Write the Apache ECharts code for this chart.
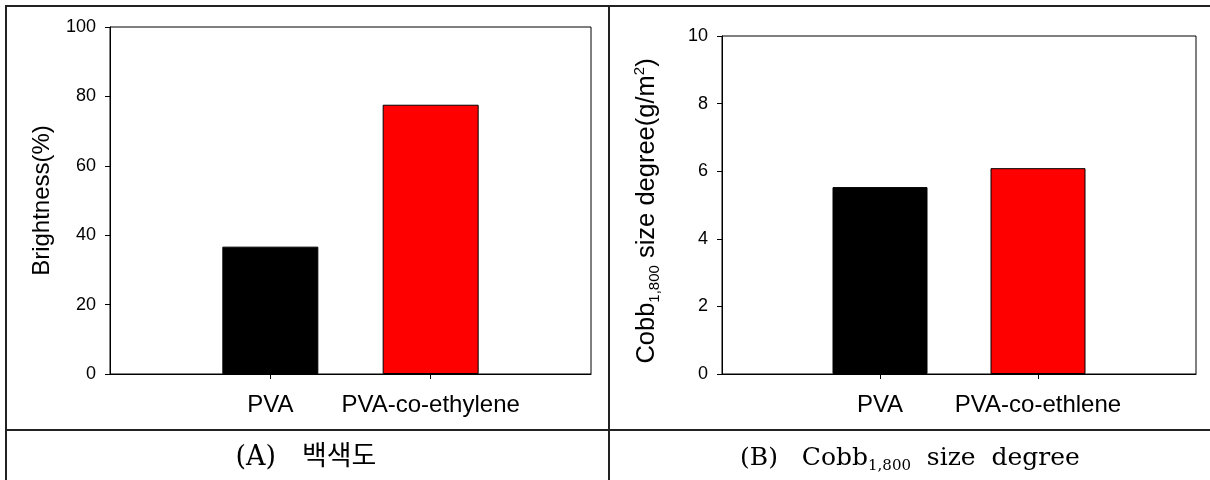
<!DOCTYPE html>
<html>
<head>
<meta charset="utf-8">
<script src="https://cdn.jsdelivr.net/npm/echarts@6/dist/echarts.min.js"></script>
<style>
  html, body { margin: 0; padding: 0; background: #fff; }
  #chart { width: 1210px; height: 480px; }
</style>
</head>
<body>
<div id="chart"></div>
<script>
// Panel (A): brightness of the two sizing agents
const categoriesA = ['PVA', 'PVA-co-ethylene'];
const brightness = [36.7, 77.6];
const rangeA = [0, 100, 20];          // min, max, tick step

// Panel (B): Cobb 1,800 size degree
const categoriesB = ['PVA', 'PVA-co-ethlene'];
const cobb = [5.53, 6.09];
const rangeB = [0, 10, 2];

const barColors = ['#000000', '#ff0000'];

const SANS = "'Liberation Sans', Arial, sans-serif";
const SERIF = "'DejaVu Serif', 'Liberation Serif', 'Noto Sans CJK KR', serif";

// Pad each category list with an empty slot on both ends so the two bars sit
// at one third and two thirds of the plot width.
function padded(list) { return [''].concat(list, ['']); }
function paddedData(values) {
  return [null].concat(values.map((v, i) => ({
    value: v,
    itemStyle: { color: barColors[i], borderColor: '#000', borderWidth: 1 }
  })), [null]);
}
const innerOnly = (i) => i > 0 && i < 3;

function xAxisFor(gridIndex, cats) {
  return {
    type: 'category',
    gridIndex,
    data: padded(cats),
    boundaryGap: false,
    axisLine: { show: true, lineStyle: { color: '#000', width: 1 } },
    axisTick: { show: true, inside: false, length: 5, interval: innerOnly, lineStyle: { color: '#000' } },
    axisLabel: { interval: innerOnly, margin: 19, fontSize: 24, fontFamily: SANS, color: '#000' },
    splitLine: { show: false }
  };
}

function yAxisFor(gridIndex, range, name, nameGap, rich, padding) {
  return {
    type: 'value',
    gridIndex,
    min: range[0], max: range[1], interval: range[2],
    name,
    nameLocation: 'middle',
    nameGap,
    nameTextStyle: { fontSize: 24, fontFamily: SANS, color: '#000', rich, padding: padding || 0 },
    axisLine: { show: true, lineStyle: { color: '#000', width: 1 } },
    axisTick: { show: true, inside: false, length: 5, lineStyle: { color: '#000' } },
    axisLabel: { margin: 14, fontSize: 18, fontFamily: SANS, color: '#000' },
    splitLine: { show: false }
  };
}

const cobbNameRich = {
  m: { fontSize: 25.5, fontFamily: SANS, color: '#000', lineHeight: 30 },
  sub: { fontSize: 15, fontFamily: SANS, color: '#000', lineHeight: 15, verticalAlign: 'bottom' },
  sup: { fontSize: 15, fontFamily: SANS, color: '#000', lineHeight: 14, verticalAlign: 'top' }
};

const captionRich = {
  k: { fontSize: 27, fontFamily: SERIF, color: '#000', lineHeight: 32 },
  t: { fontSize: 25, fontFamily: SERIF, color: '#000', lineHeight: 32 },
  s: { fontSize: 15, fontFamily: SERIF, color: '#000', lineHeight: 16, verticalAlign: 'bottom' }
};

const TABLE = '#222';
function rule(x1, y1, x2, y2) {
  return {
    type: 'line', silent: true,
    shape: { x1, y1, x2, y2 },
    style: { stroke: TABLE, lineWidth: 2 }
  };
}

const chart = echarts.init(document.getElementById('chart'));
chart.setOption({
  animation: false,
  grid: [
    { left: 110, top: 27, width: 481, height: 347, show: true, borderColor: '#000', borderWidth: 1, containLabel: false },
    { left: 722, top: 36, width: 474, height: 338, show: true, borderColor: '#000', borderWidth: 1, containLabel: false }
  ],
  xAxis: [xAxisFor(0, categoriesA), xAxisFor(1, categoriesB)],
  yAxis: [
    yAxisFor(0, rangeA, 'Brightness(%)', 56),
    yAxisFor(1, rangeB, '{m|Cobb}{sub|1,800}{m| size degree(g/m}{sup|2}{m|)}', 60, cobbNameRich, [0, 12, 0, 0])
  ],
  series: [
    { type: 'bar', xAxisIndex: 0, yAxisIndex: 0, barWidth: 96, data: paddedData(brightness) },
    { type: 'bar', xAxisIndex: 1, yAxisIndex: 1, barWidth: 95, data: paddedData(cobb) }
  ],
  graphic: [
    // table frame around the two panels
    rule(5, 6, 1210, 6),
    rule(6, 5, 6, 480),
    rule(609, 5, 609, 480),
    rule(5, 430, 1210, 430),
    {
      type: 'text', silent: true, x: 306, y: 458,
      style: { text: '{k|(A)   백색도}', rich: captionRich, align: 'center', verticalAlign: 'middle' }
    },
    {
      type: 'text', silent: true, x: 910, y: 458,
      style: { text: '{t|(B)   Cobb}{s|1,800}{t|  size  degree}', rich: captionRich, align: 'center', verticalAlign: 'middle' }
    }
  ]
});
</script>
</body>
</html>
